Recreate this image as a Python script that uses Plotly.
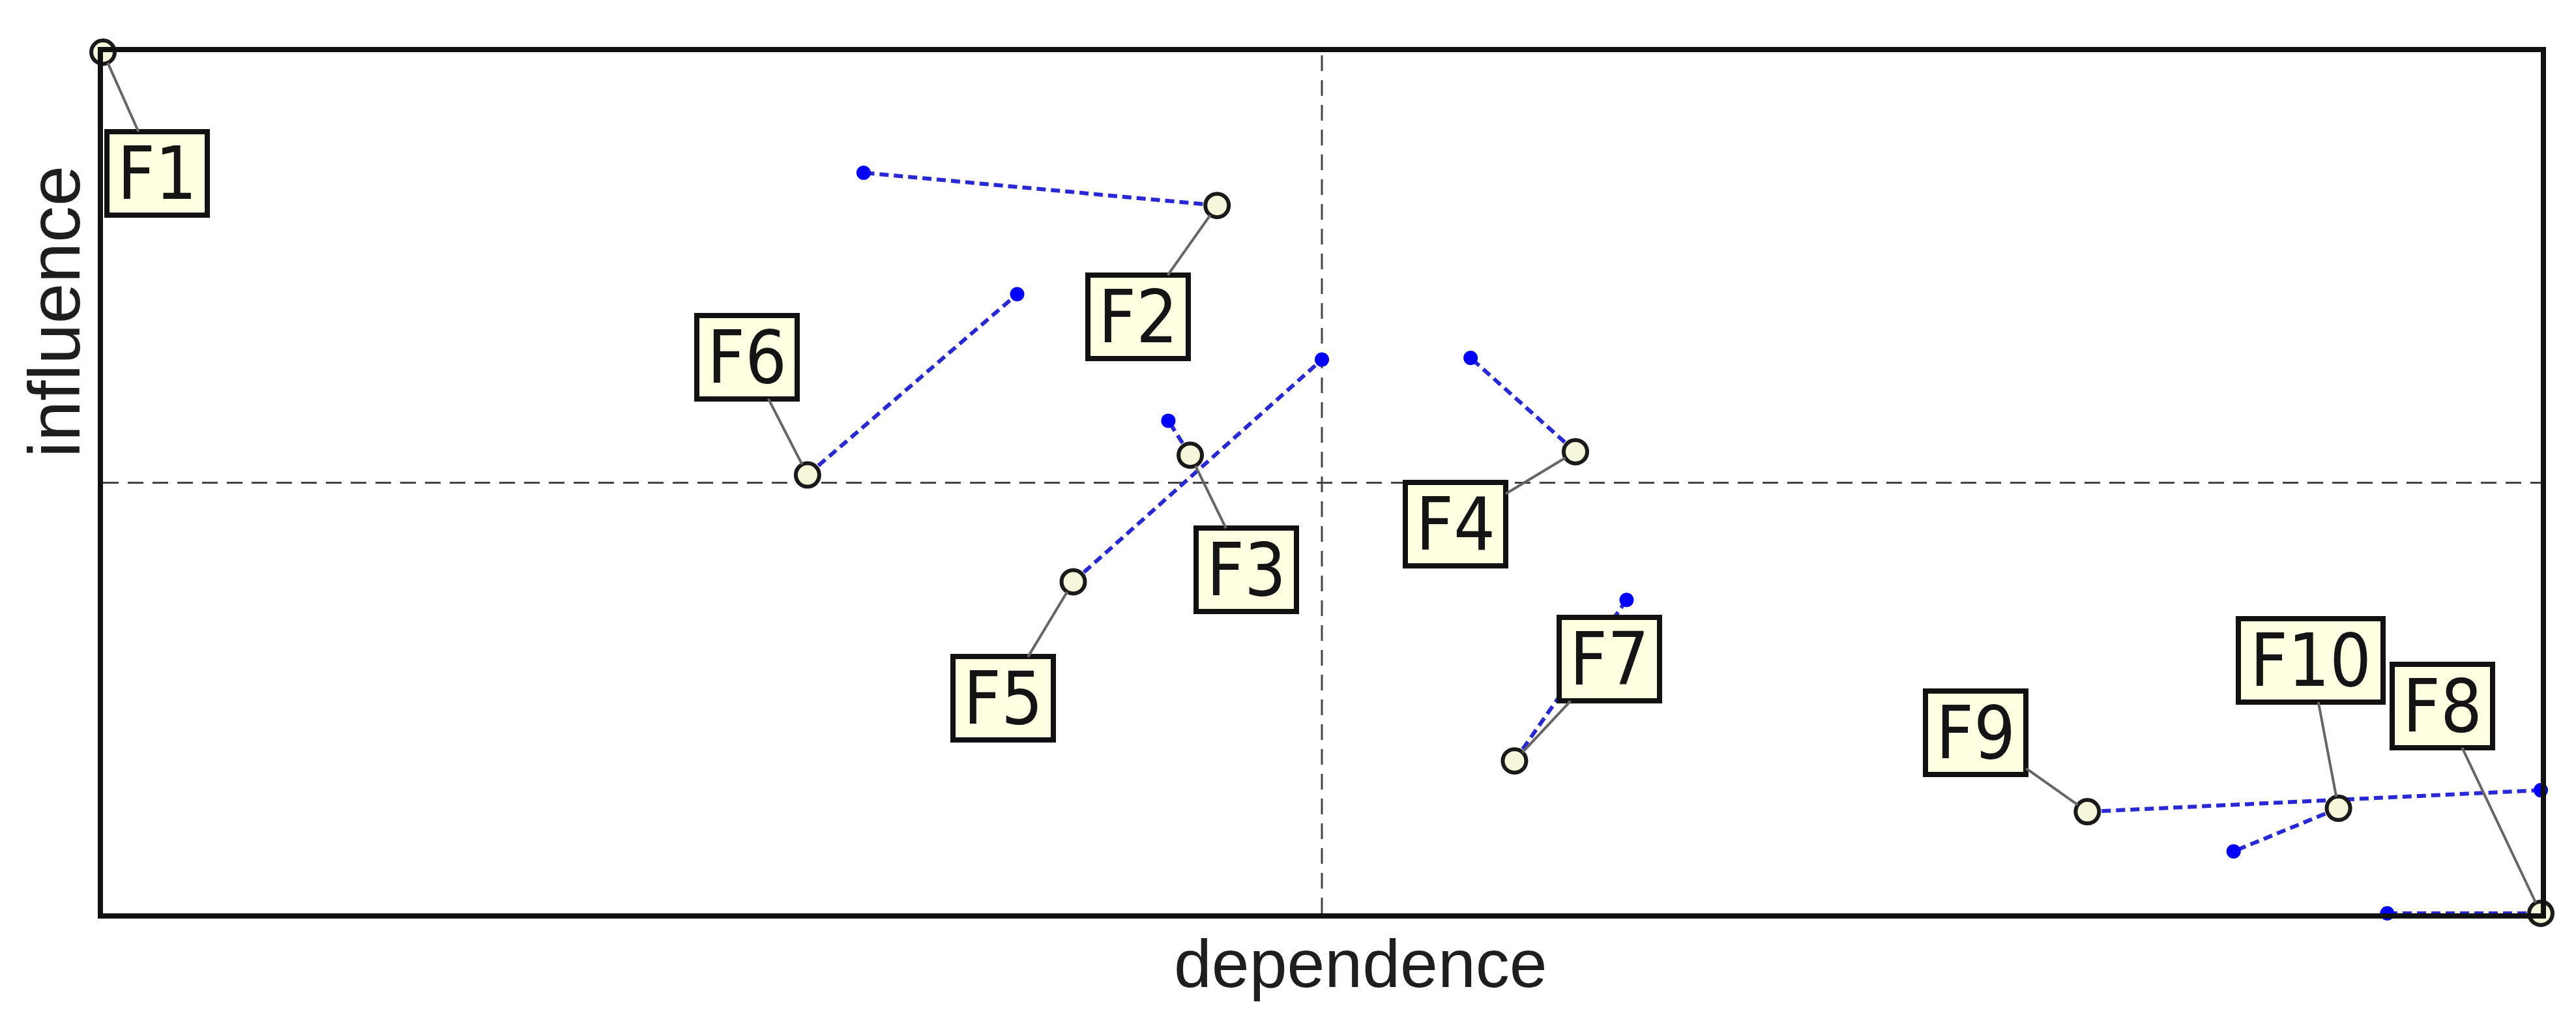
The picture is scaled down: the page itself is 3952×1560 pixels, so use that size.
import plotly.graph_objects as go

# ---- data ----
factors = ["F1", "F2", "F3", "F4", "F5", "F6", "F7", "F8", "F9", "F10"]
direct_dependence = [0.0, 45.7, 44.6, 60.4, 39.8, 28.9, 57.9, 100.0, 81.4, 91.7]
direct_influence = [100.0, 82.2, 53.2, 53.6, 38.5, 50.9, 17.7, 0.0, 11.8, 12.2]
indirect_dependence = [0.0, 31.2, 43.7, 56.1, 50.0, 37.5, 62.5, 93.7, 100.0, 87.4]
indirect_influence = [100.0, 86.0, 57.2, 64.5, 64.3, 71.9, 36.4, 0.0, 14.3, 7.2]

# label offsets in pixels (layout only)
label_dx = [83, -121, 86, -184, -108, -93, 146, -151, -171, -43]
label_dy = [186, 171, 176, 111, 179, -181, -156, -318, -121, -227]

W, H = 3952, 1560
ML, MR, MT, MB = 150, 62, 72, 167

fig = go.Figure()

# displacement lines (direct -> indirect)
for i, f in enumerate(factors):
    fig.add_trace(go.Scatter(
        x=[direct_dependence[i], indirect_dependence[i]],
        y=[direct_influence[i], indirect_influence[i]],
        mode="lines",
        line=dict(color="rgb(40,40,215)", width=6, dash="14px,8px"),
        hoverinfo="skip", showlegend=False, cliponaxis=False,
    ))

# indirect positions (blue dots)
fig.add_trace(go.Scatter(
    x=indirect_dependence, y=indirect_influence, mode="markers",
    marker=dict(color="#0000FF", size=22, line=dict(width=0)),
    text=factors, showlegend=False, cliponaxis=False,
))

# direct positions (open circles)
fig.add_trace(go.Scatter(
    x=direct_dependence, y=direct_influence, mode="markers",
    marker=dict(color="#F6F6DA", size=36, line=dict(color="#1a1a1a", width=6)),
    text=factors, showlegend=False, cliponaxis=False,
))

# labels
for i, f in enumerate(factors):
    fig.add_annotation(
        x=direct_dependence[i], y=direct_influence[i], xref="x", yref="y",
        text=f, showarrow=True, arrowhead=0, arrowwidth=4, arrowcolor="#666666",
        ax=label_dx[i], ay=label_dy[i], standoff=18,
        font=dict(family="Liberation Sans Narrow, Arial Narrow, DejaVu Sans Condensed, sans-serif",
                  size=112, color="#141414"),
        width=146 if len(f) == 2 else 214, height=120,
        align="center", valign="middle",
        bgcolor="#FFFFE2", bordercolor="#111111", borderwidth=8, borderpad=0,
    )

# axis titles
fig.add_annotation(
    x=(2079 - ML) / (W - ML - MR), y=(H - MB - 1470) / (H - MT - MB),
    xref="paper", yref="paper", text="dependence", showarrow=False,
    xanchor="center", yanchor="middle",
    font=dict(family="Liberation Sans, Arial, sans-serif", size=104, color="#1e1e1e"),
)
fig.add_annotation(
    x=(76 - ML) / (W - ML - MR), y=(H - MB - 470) / (H - MT - MB),
    xref="paper", yref="paper", text="influence", showarrow=False, textangle=-90,
    xanchor="center", yanchor="middle",
    font=dict(family="Liberation Sans, Arial, sans-serif", size=112, color="#1e1e1e"),
)

# quadrant dashed lines
fig.add_shape(type="line", x0=50, x1=50, y0=0, y1=100, xref="x", yref="y",
              line=dict(color="#444444", width=3, dash="24px,14px"), layer="below")
fig.add_shape(type="line", x0=0, x1=100, y0=50, y1=50, xref="x", yref="y",
              line=dict(color="#444444", width=3, dash="24px,14px"), layer="below")

axis_common = dict(showgrid=False, zeroline=False, showticklabels=False, ticks="",
                   showline=True, mirror=True, linecolor="#111111", linewidth=8)
fig.update_xaxes(range=[0, 100], **axis_common)
fig.update_yaxes(range=[0, 100], **axis_common)

fig.update_layout(
    width=W, height=H,
    margin=dict(l=ML, r=MR, t=MT, b=MB),
    paper_bgcolor="white", plot_bgcolor="white",
    showlegend=False,
)

fig.write_html("out.html")
